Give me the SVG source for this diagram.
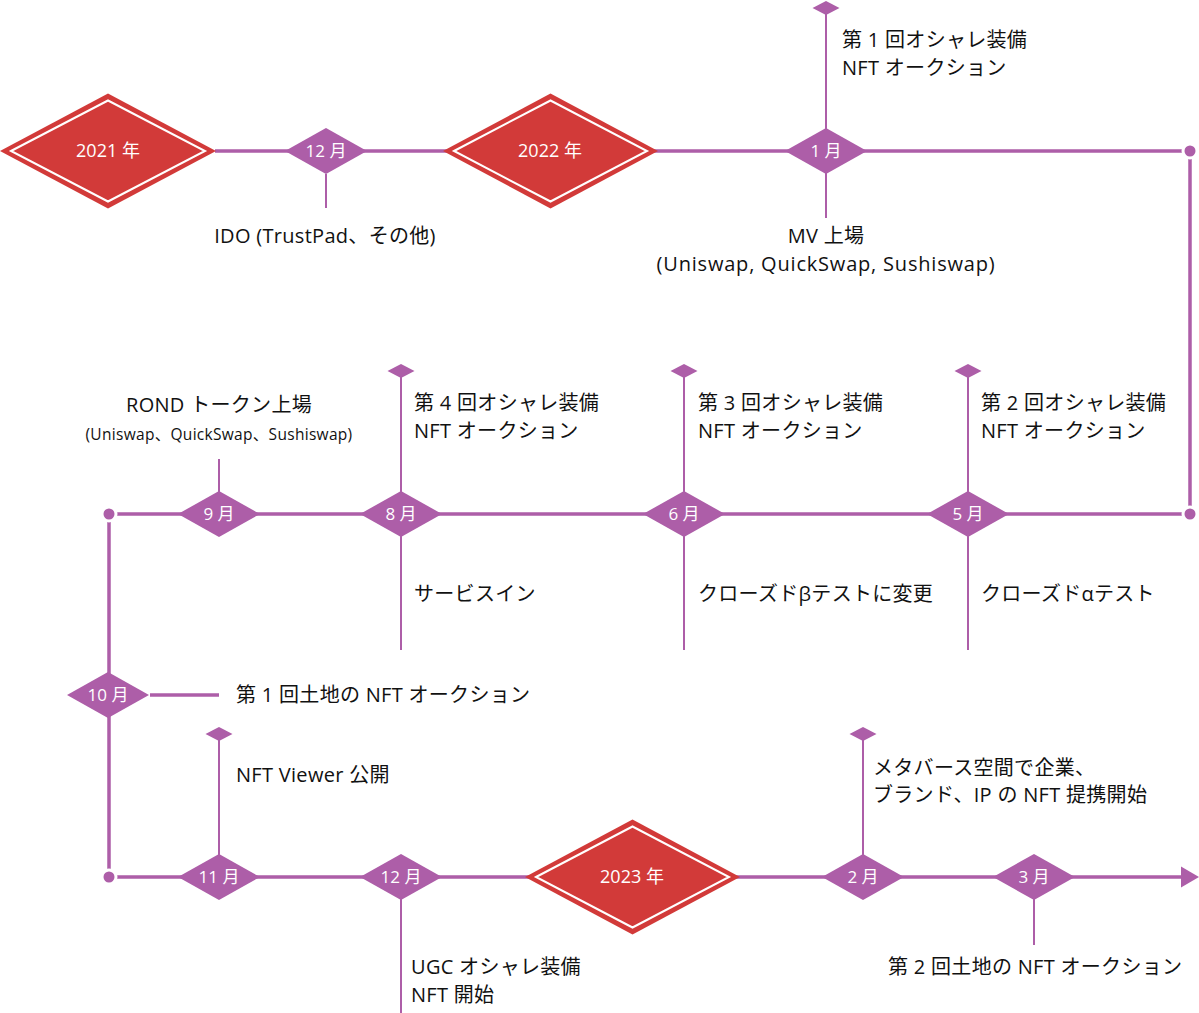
<svg xmlns="http://www.w3.org/2000/svg" width="1199" height="1013" viewBox="0 0 1199 1013">
<style>
.ln{stroke:#ad5ea8;stroke-width:3.5;fill:none}
.br{stroke:#ad5ea8;stroke-width:2;fill:none}
.mo{fill:#ad5ea8}
.yr{fill:#d23a39}
.yi{fill:none;stroke:#fff;stroke-width:2}
.dot{fill:#ad5ea8;stroke:#fff;stroke-width:3}
text{font-family:"Open Sans","Noto Sans CJK JP",sans-serif}
.mt{font-size:17px;fill:#fff;text-anchor:middle}
.yt{font-size:18px;fill:#fff;text-anchor:middle}
.t{font-size:20px;fill:#111;letter-spacing:0.3px}
.tc{font-size:20px;fill:#111;text-anchor:middle;letter-spacing:0.3px}
.ts{font-size:15.5px;fill:#111;text-anchor:middle;letter-spacing:0.3px}
.wide{letter-spacing:0.8px}
</style>
<defs>
<polygon id="md" points="-41,0 0,-23 41,0 0,23"/>
<polygon id="sd" points="-13.5,0 0,-7 13.5,0 0,7"/>
</defs>
<g id="connectors">
<path class="ln" d="M215,151 H1190 V514 H109 V877 H1182"/>
<polygon class="mo" points="1181,866.5 1199,877 1181,887.5"/>
<path class="ln" d="M150,695 H219"/>
<path class="br" d="M326,174 V208"/>
<path class="br" d="M826,8 V218"/>
<path class="br" d="M219,459 V514"/>
<path class="br" d="M401,371 V650"/>
<path class="br" d="M684,371 V650"/>
<path class="br" d="M968,371 V650"/>
<path class="br" d="M219,734 V877"/>
<path class="br" d="M401,877 V1013"/>
<path class="br" d="M863,734 V877"/>
<path class="br" d="M1034,877 V945"/>
<circle class="dot" cx="1190" cy="151" r="7"/>
<circle class="dot" cx="1190" cy="514" r="7"/>
<circle class="dot" cx="109" cy="514" r="7"/>
<circle class="dot" cx="109" cy="877" r="7"/>
</g>
<g id="y2021">
<polygon class="yr" points="0,151 108,93.5 216,151 108,208.5"/>
<polygon class="yi" points="11,151 108,100.5 205,151 108,201.5"/>
<text class="yt" x="108" y="157">2021 年</text>
</g>
<g id="m2021-12">
<use href="#md" class="mo" x="326" y="151"/>
<text class="mt" x="326" y="157">12 月</text>
<text class="tc" x="325" y="243">IDO (TrustPad、その他)</text>
</g>
<g id="y2022">
<polygon class="yr" points="443,151 550.5,93.5 658,151 550.5,208.5"/>
<polygon class="yi" points="454,151 550.5,100.5 647,151 550.5,201.5"/>
<text class="yt" x="550" y="157">2022 年</text>
</g>
<g id="m2022-01">
<use href="#md" class="mo" x="826" y="151"/>
<use href="#sd" class="mo" x="826" y="8"/>
<text class="mt" x="826" y="157">1 月</text>
<text class="t" x="842" y="47">第 1 回オシャレ装備</text>
<text class="t" x="842" y="75">NFT オークション</text>
<text class="tc" x="826" y="243">MV 上場</text>
<text class="tc wide" x="826" y="271">(Uniswap, QuickSwap, Sushiswap)</text>
</g>
<g id="m2022-05">
<use href="#md" class="mo" x="968" y="514"/>
<use href="#sd" class="mo" x="968" y="371"/>
<text class="mt" x="968" y="520">5 月</text>
<text class="t" x="981" y="410">第 2 回オシャレ装備</text>
<text class="t" x="981" y="438">NFT オークション</text>
<text class="t" x="981" y="601">クローズドαテスト</text>
</g>
<g id="m2022-06">
<use href="#md" class="mo" x="684" y="514"/>
<use href="#sd" class="mo" x="684" y="371"/>
<text class="mt" x="684" y="520">6 月</text>
<text class="t" x="698" y="410">第 3 回オシャレ装備</text>
<text class="t" x="698" y="438">NFT オークション</text>
<text class="t" x="698" y="601">クローズドβテストに変更</text>
</g>
<g id="m2022-08">
<use href="#md" class="mo" x="401" y="514"/>
<use href="#sd" class="mo" x="401" y="371"/>
<text class="mt" x="401" y="520">8 月</text>
<text class="t" x="414" y="410">第 4 回オシャレ装備</text>
<text class="t" x="414" y="438">NFT オークション</text>
<text class="t" x="414" y="601">サービスイン</text>
</g>
<g id="m2022-09">
<use href="#md" class="mo" x="219" y="514"/>
<text class="mt" x="219" y="520">9 月</text>
<text class="tc" x="219" y="412">ROND トークン上場</text>
<text class="ts" x="219" y="440">(Uniswap、QuickSwap、Sushiswap)</text>
</g>
<g id="m2022-10">
<use href="#md" class="mo" x="108" y="695"/>
<text class="mt" x="108" y="701">10 月</text>
<text class="t" x="236" y="702">第 1 回土地の NFT オークション</text>
</g>
<g id="m2022-11">
<use href="#md" class="mo" x="219" y="877"/>
<use href="#sd" class="mo" x="219" y="734"/>
<text class="mt" x="219" y="883">11 月</text>
<text class="t" x="236" y="782">NFT Viewer 公開</text>
</g>
<g id="m2022-12">
<use href="#md" class="mo" x="401" y="877"/>
<text class="mt" x="401" y="883">12 月</text>
<text class="t" x="411" y="974">UGC オシャレ装備</text>
<text class="t" x="411" y="1002">NFT 開始</text>
</g>
<g id="y2023">
<polygon class="yr" points="525,877 632.5,819.5 740,877 632.5,934.5"/>
<polygon class="yi" points="536,877 632.5,826.5 729,877 632.5,927.5"/>
<text class="yt" x="632" y="883">2023 年</text>
</g>
<g id="m2023-02">
<use href="#md" class="mo" x="863" y="877"/>
<use href="#sd" class="mo" x="863" y="734"/>
<text class="mt" x="863" y="883">2 月</text>
<text class="t" x="873" y="775">メタバース空間で企業、</text>
<text class="t" x="873" y="802">ブランド、IP の NFT 提携開始</text>
</g>
<g id="m2023-03">
<use href="#md" class="mo" x="1034" y="877"/>
<text class="mt" x="1034" y="883">3 月</text>
<text class="t" x="888" y="974">第 2 回土地の NFT オークション</text>
</g>
</svg>
